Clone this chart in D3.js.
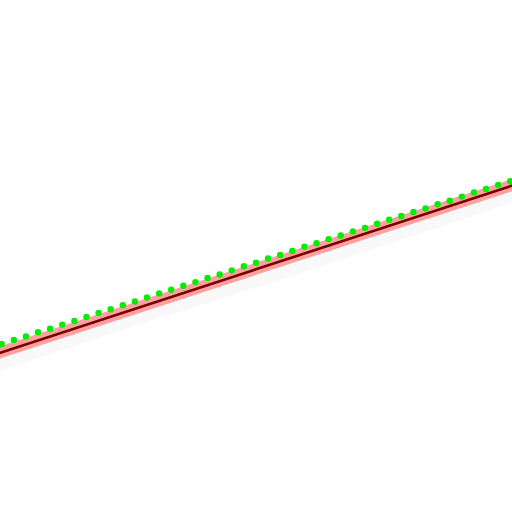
<!DOCTYPE html>
<head>
    <meta charset="utf-8">
    <script src="https://d3js.org/d3.v7.min.js"></script>
    <style>
      body { margin: 0; background: #fff; }
    </style>
</head>
<body>
<div id="vis"></div>
<script>
// observed points (index, value)
const pointIdx = d3.range(43)
const pointVals = [32.8, 33.6, 34.3, 35.1, 35.8, 36.6, 37.3, 38.1, 38.9, 39.6,
  40.4, 41.1, 41.9, 42.7, 43.4, 44.2, 44.9, 45.7, 46.4, 47.2,
  48.0, 48.7, 49.5, 50.2, 51.0, 51.8, 52.5, 53.3, 54.0, 54.8,
  55.5, 56.3, 57.1, 57.8, 58.6, 59.3, 60.1, 60.8, 61.6, 62.4,
  63.1, 63.9, 64.6]

// fitted line endpoints
const fitX = [-1, 43]
const fitY = [30.4, 64.4]
// inner band (around the fit)
const bandHi = [31.7, 65.7]
const bandLo = [29.3, 63.3]
// faint outer band (below the fit)
const outerHi = [30.4, 64.4]
const outerLo = [26.9, 60.9]

const width = 512
const height = 512

const x = d3.scaleLinear().domain([0, 42]).range([1.7, 510.3])
const y = d3.scaleLinear().domain([0, 100]).range([height, 0])

const svg = d3.select('#vis')
  .append('svg')
  .attr('width', width)
  .attr('height', height)

function band (hi, lo) {
  const rows = fitX.map((d, i) => ({ x: d, hi: hi[i], lo: lo[i] }))
  return d3.area()
    .x(d => x(d.x))
    .y0(d => y(d.lo))
    .y1(d => y(d.hi))(rows)
}

svg.append('path')
  .attr('d', band(outerHi, outerLo))
  .attr('fill', '#f9f9f9')

svg.append('path')
  .attr('d', band(bandHi, bandLo))
  .attr('fill', '#ffa0a0')

svg.append('path')
  .datum(fitX.map((d, i) => [d, fitY[i]]))
  .attr('d', d3.line().x(d => x(d[0])).y(d => y(d[1])))
  .attr('fill', 'none')
  .attr('stroke', '#7a0000')
  .attr('stroke-width', 2.6)

svg.selectAll('.pt')
  .data(pointIdx)
  .enter()
  .append('circle')
  .attr('class', 'pt')
  .attr('cx', d => x(d))
  .attr('cy', d => y(pointVals[d]))
  .attr('r', 3.2)
  .attr('fill', '#00ee00')
</script>
</body>
